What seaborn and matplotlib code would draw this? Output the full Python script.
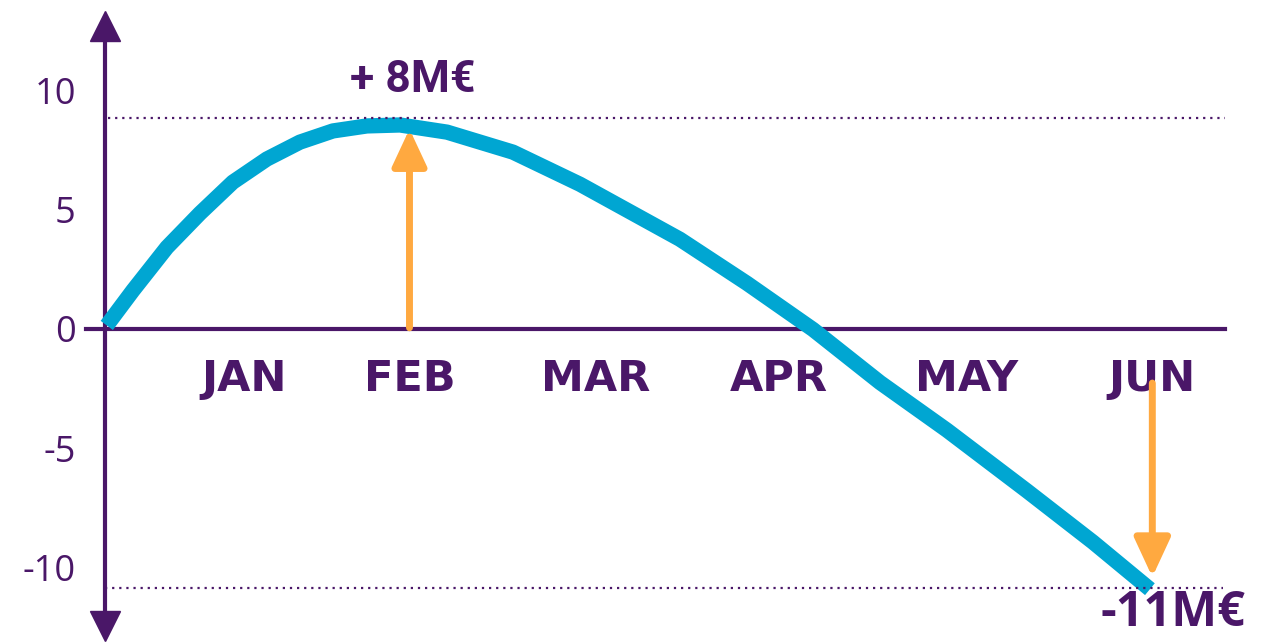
import matplotlib
matplotlib.use("Agg")
import matplotlib.pyplot as plt
import seaborn as sns
import pandas as pd

# data (x in month-widths from the origin, y in M€)
curve_x = [0.01, 0.151, 0.334, 0.512, 0.689, 0.872, 1.050, 1.228, 1.411,
           1.589, 1.842, 2.197, 2.558, 2.919, 3.096, 3.457, 3.813, 4.174,
           4.534, 4.965, 5.320, 5.627]
curve_y = [0.15, 1.62, 3.43, 4.86, 6.17, 7.14, 7.85, 8.32, 8.53,
           8.57, 8.27, 7.43, 6.08, 4.53, 3.77, 1.92, -0.02, -2.25,
           -4.25, -6.80, -8.95, -10.93]
months = ['JAN', 'FEB', 'MAR', 'APR', 'MAY', 'JUN']
month_pos = [0.75, 1.64, 2.64, 3.63, 4.64, 5.64]
y_ticks = [-10, -5, 0, 5, 10]
peak_level = 8.87
low_level = -10.88
peak_label = '+ 8M€'
low_label = '-11M€'

PURPLE = '#4a1768'
CYAN = '#00a6d2'
ORANGE = '#ffa940'

sns.set_style('white')

fig = plt.figure(figsize=(12.63, 6.43), dpi=100)
ax = fig.add_axes([0, 0, 1, 1])

df = pd.DataFrame({'x': curve_x, 'y': curve_y})
sns.lineplot(data=df, x='x', y='y', ax=ax, color=CYAN, linewidth=11,
             solid_capstyle='butt', solid_joinstyle='round', zorder=3)

ax.set_xlim(-0.565, 6.236)
ax.set_ylim(-13.19, 13.82)

# axes through the origin
for side in ['top', 'right']:
    ax.spines[side].set_visible(False)
ax.spines['left'].set_position(('data', 0))
ax.spines['bottom'].set_position(('data', 0))
ax.spines['left'].set_bounds(-12.5, 12.8)
ax.spines['bottom'].set_bounds(-0.1, 6.03)
for side in ['left', 'bottom']:
    ax.spines[side].set_color(PURPLE)
    ax.spines[side].set_linewidth(3)

# arrow heads on the y axis
ax.plot([0], [12.72], marker='^', markersize=21, color=PURPLE, clip_on=False, zorder=4)
ax.plot([0], [-12.46], marker='v', markersize=21, color=PURPLE, clip_on=False, zorder=4)

ax.set_yticks(y_ticks)
ax.set_yticklabels([str(t) for t in y_ticks])
ax.set_xticks(month_pos)
ax.set_xticklabels(months)
ax.tick_params(axis='y', direction='out', length=12, width=3, color=PURPLE,
               labelcolor=PURPLE, labelsize=26, pad=9)
ax.tick_params(axis='x', direction='out', length=10, width=3, color=PURPLE,
               labelcolor=PURPLE, labelsize=31, pad=11)
for lab in ax.get_yticklabels():
    lab.set_family(['Open Sans', 'DejaVu Sans'])
for lab in ax.get_xticklabels():
    lab.set_family('DejaVu Sans')
    lab.set_fontweight('bold')
ax.set_xlabel('')
ax.set_ylabel('')

# dotted reference levels
ax.plot([0.016, 6.03], [peak_level, peak_level], color=PURPLE, lw=1.6,
        linestyle=(0, (1, 2.2)), zorder=4)
ax.plot([0.0, 6.02], [low_level, low_level], color=PURPLE, lw=1.6,
        linestyle=(0, (1, 2.2)), zorder=4)

# orange arrows
ax.annotate('', xy=(month_pos[1], 8.4), xytext=(month_pos[1], 0.05),
            arrowprops=dict(arrowstyle='-|>,head_length=0.9,head_width=0.42',
                            mutation_scale=25, lw=5, color=ORANGE,
                            shrinkA=0, shrinkB=0), zorder=5)
ax.annotate('', xy=(month_pos[5], -10.42), xytext=(month_pos[5], -2.27),
            arrowprops=dict(arrowstyle='-|>,head_length=0.95,head_width=0.44',
                            mutation_scale=25, lw=5, color=ORANGE,
                            shrinkA=0, shrinkB=0), zorder=5)

ax.text(1.66, 10.46, peak_label, ha='center', va='center', color=PURPLE,
        fontsize=32, fontweight='bold', family=['Roboto', 'DejaVu Sans'])
ax.text(5.75, -11.97, low_label, ha='center', va='center', color=PURPLE,
        fontsize=35, fontweight='bold', family=['Open Sans', 'DejaVu Sans'])

fig.savefig('out.png', dpi=100)
